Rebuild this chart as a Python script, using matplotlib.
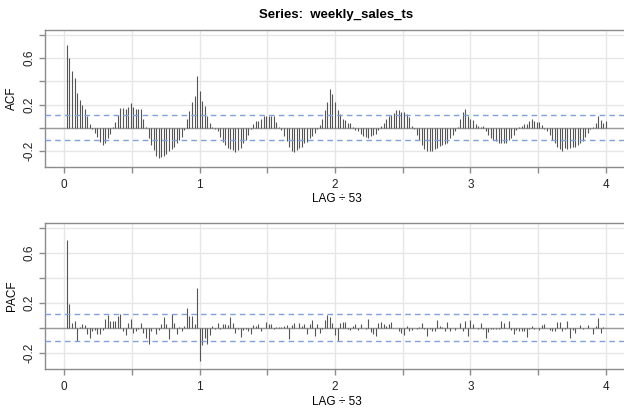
import numpy as np
import matplotlib
matplotlib.use("Agg")
import matplotlib.pyplot as plt

plt.rcParams['font.family'] = ['Liberation Sans', 'DejaVu Sans']

# data: lags 1..212, plotted as lag / 53
freq = 53
acf_vals = [
    0.71, 0.60, 0.49, 0.43, 0.30, 0.24, 0.20, 0.16, 0.10, 0.035,
    -0.005, -0.04, -0.08, -0.12, -0.145, -0.13, -0.09, -0.05, 0.01, 0.055,
    0.11, 0.17, 0.17, 0.16, 0.18, 0.21, 0.18, 0.16, 0.16, 0.165,
    0.08, 0.01, -0.09, -0.15, -0.19, -0.24, -0.255, -0.25, -0.24, -0.22,
    -0.20, -0.18, -0.16, -0.13, -0.10, -0.075, -0.02, 0.08, 0.145, 0.22,
    0.27, 0.445, 0.32, 0.23, 0.19, 0.10, 0.04, 0.005, -0.01, -0.03,
    -0.075, -0.12, -0.145, -0.175, -0.18, -0.19, -0.21, -0.19, -0.175, -0.13,
    -0.10, -0.06, -0.01, 0.03, 0.06, 0.06, 0.08, 0.10, 0.105, 0.10,
    0.105, 0.10, 0.055, 0.01, -0.02, -0.07, -0.11, -0.16, -0.195, -0.21,
    -0.19, -0.175, -0.16, -0.13, -0.12, -0.09, -0.07, -0.045, -0.01, 0.025,
    0.075, 0.15, 0.22, 0.33, 0.29, 0.225, 0.155, 0.12, 0.08, 0.065,
    0.04, 0.045, 0.005, -0.02, -0.03, -0.05, -0.07, -0.08, -0.09, -0.07,
    -0.06, -0.05, -0.02, 0.02, 0.045, 0.08, 0.10, 0.11, 0.125, 0.15,
    0.155, 0.135, 0.135, 0.12, 0.09, 0.02, -0.01, -0.06, -0.10, -0.145,
    -0.18, -0.20, -0.20, -0.195, -0.18, -0.175, -0.155, -0.145, -0.14, -0.13,
    -0.09, -0.06, -0.03, 0.01, 0.075, 0.14, 0.16, 0.10, 0.08, 0.07,
    0.035, 0.02, 0.005, 0.02, -0.025, -0.06, -0.09, -0.10, -0.11, -0.13,
    -0.13, -0.125, -0.125, -0.10, -0.09, -0.06, -0.02, 0.005, 0.02, 0.03,
    0.035, 0.06, 0.075, 0.06, 0.055, 0.055, 0.025, -0.01, -0.025, -0.06,
    -0.10, -0.13, -0.165, -0.18, -0.195, -0.175, -0.18, -0.175, -0.165, -0.16,
    -0.145, -0.13, -0.11, -0.08, -0.045, -0.005, 0.01, 0.045, 0.10, 0.07,
    0.04, 0.06,
]
pacf_vals = [
    0.70, 0.19, 0.04, 0.05, -0.11, 0.005, 0.03, 0.02, -0.05, -0.08,
    -0.03, -0.02, -0.05, -0.05, -0.02, 0.07, 0.10, 0.055, 0.055, 0.055,
    0.095, 0.105, -0.03, -0.06, 0.04, 0.065, -0.04, -0.03, -0.01, 0.04,
    -0.04, -0.08, -0.13, -0.03, -0.005, -0.05, -0.02, 0.03, 0.085, 0.027,
    -0.095, 0.105, 0.04, -0.05, 0.008, -0.03, 0.01, 0.155, 0.095, 0.095,
    0.03, 0.315, -0.27, -0.14, -0.08, -0.135, -0.06, 0.013, -0.01, 0.035,
    -0.015, 0.027, 0.03, 0.02, 0.085, 0.04, -0.045, -0.01, -0.075, -0.02,
    -0.01, -0.027, -0.055, 0.02, 0.013, 0.03, -0.027, 0.0, 0.045, 0.027,
    0.027, -0.01, 0.005, 0.008, 0.005, 0.013, 0.02, -0.09, 0.02, 0.04,
    0.0, 0.04, 0.013, 0.027, -0.055, 0.027, 0.06, -0.065, 0.03, -0.04,
    -0.013, 0.06, 0.10, 0.085, 0.04, -0.06, -0.107, 0.04, 0.045, 0.048,
    -0.015, -0.02, 0.013, 0.03, -0.02, 0.03, 0.0, -0.01, 0.067, -0.035,
    -0.05, -0.067, 0.04, 0.048, 0.027, 0.013, 0.027, 0.045, 0.0, -0.005,
    -0.027, -0.04, -0.06, 0.013, -0.03, -0.02, 0.0, -0.008, 0.005, 0.04,
    -0.013, -0.067, -0.008, -0.027, -0.027, 0.06, 0.013, 0.005, -0.027, 0.043,
    -0.027, 0.0, -0.02, -0.005, 0.035, -0.027, 0.053, -0.067, 0.06, 0.027,
    0.0, -0.008, 0.035, -0.013, -0.08, -0.035, -0.015, -0.015, -0.015, -0.015,
    0.053, 0.035, -0.005, 0.053, -0.02, -0.053, -0.02, -0.027, -0.03, -0.03,
    -0.072, -0.013, 0.013, -0.013, -0.005, -0.02, 0.02, 0.03, -0.005, -0.02,
    -0.03, -0.03, 0.048, 0.048, -0.03, -0.013, 0.053, -0.085, -0.02, -0.045,
    -0.005, 0.02, -0.008, 0.0, 0.02, -0.005, -0.05, 0.013, 0.08, -0.04,
    0.005, 0.0,
]
conf = 0.107
title = "Series:  weekly_sales_ts"

lag = np.arange(1, len(acf_vals) + 1) / freq

W, H = 624, 409
fig = plt.figure(figsize=(W / 100, H / 100), dpi=100)

bar_col = '#555555'
grid_col = '#e6e6e6'
axis_col = '#8c8c8c'
dash_col = '#7ea3dc'
ylim = (-0.332, 0.837)
xlim = (-0.1425, 4.164)

def px_axes(left, top, right, bottom):
    return fig.add_axes([left / W, 1 - bottom / H, (right - left) / W, (bottom - top) / H])

panels = [
    (px_axes(45, 30.3, 628, 166.7), acf_vals, 'ACF'),
    (px_axes(45, 223, 628, 369), pacf_vals, 'PACF'),
]

for ax, vals, name in panels:
    ax.set_xlim(*xlim)
    ax.set_ylim(*ylim)
    for gx in np.arange(0, 4.01, 0.5):
        ax.axvline(gx, color=grid_col, lw=1, zorder=0)
    for gy in np.arange(-0.2, 0.81, 0.2):
        ax.axhline(gy, color=grid_col, lw=1, zorder=0)
    ax.axhline(0, color='#9a9a9a', lw=1, zorder=1)
    ax.vlines(lag, 0, vals, colors=bar_col, lw=0.8, zorder=2)
    for c in (conf, -conf):
        ax.axhline(c, color=dash_col, lw=1, ls=(0, (4, 3)), zorder=3)

    ax.spines['right'].set_visible(False)
    for s in ('left', 'bottom', 'top'):
        ax.spines[s].set_color(axis_col)
        ax.spines[s].set_linewidth(1)

    ax.set_yticks(np.round(np.arange(-0.2, 0.81, 0.2), 1))
    ax.set_yticklabels(['-0.2', '', '0.2', '', '0.6', ''], rotation=90, va='center')
    ax.set_xticks(np.arange(0, 4.01, 0.5))
    ax.set_xticklabels(['0', '', '1', '', '2', '', '3', '', '4'])
    ax.tick_params(axis='both', labelcolor='#222222', labelsize=8.5, length=4,
                   width=1, direction='out', color=axis_col)
    ax.tick_params(axis='x', pad=4.5)
    ax.tick_params(axis='y', pad=3)
    ax.set_ylabel(name, fontsize=8.5, labelpad=4)
    ax.set_xlabel('LAG \u00f7 53', fontsize=8.5, labelpad=2)

panels[0][0].set_title(title, fontsize=9.5, fontweight='bold', pad=9)

fig.savefig('out.png', dpi=100)
